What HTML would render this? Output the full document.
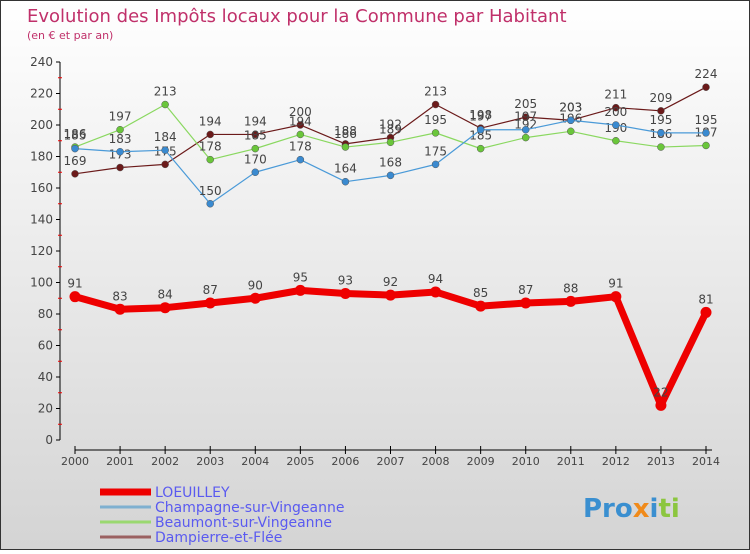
<!DOCTYPE html>
<html><head><meta charset="utf-8"><style>
body{margin:0;}
#c{width:750px;height:550px;position:relative;font-family:"DejaVu Sans","Liberation Sans",sans-serif;}
</style></head><body>
<div id="c">
<svg id="s" width="750" height="550" xmlns="http://www.w3.org/2000/svg">
<defs><linearGradient id="bg" x1="0" y1="0" x2="0" y2="1"><stop offset="0" stop-color="#ffffff"/><stop offset="1" stop-color="#d4d4d4"/></linearGradient></defs>
<rect x="0.5" y="0.5" width="749" height="549" fill="url(#bg)" stroke="#333"/>
<text x="27" y="22" font-size="18" fill="#c0306a">Evolution des Impôts locaux pour la Commune par Habitant</text>
<text x="27" y="39" font-size="11" fill="#c0306a">(en € et par an)</text>
<g id="axes"></g><g id="series"></g><g id="legend"></g>
<text x="583" y="517" font-size="26" font-weight="bold" fill="#3a8fd0">Pro<tspan fill="#f08a1a">x</tspan><tspan fill="#3a8fd0">i</tspan><tspan fill="#8cc63f">ti</tspan></text>
</svg></div>
<script>
const years=[2000,2001,2002,2003,2004,2005,2006,2007,2008,2009,2010,2011,2012,2013,2014];
const yTicks=[0,20,40,60,80,100,120,140,160,180,200,220,240];
const loeuilley=[91,83,84,87,90,95,93,92,94,85,87,88,91,22,81];
const champagne=[185,183,184,150,170,178,164,168,175,197,197,203,200,195,195];
const beaumont=[186,197,213,178,185,194,186,189,195,185,192,196,190,186,187];
const dampierre=[169,173,175,194,194,200,188,192,213,198,205,203,211,209,224];
const names=["LOEUILLEY","Champagne-sur-Vingeanne","Beaumont-sur-Vingeanne","Dampierre-et-Flée"];
const NS="http://www.w3.org/2000/svg";
const xS=i=>75+i*(706-75)/(years.length-1);
const yS=v=>440-v*(440-62)/240;
function mk(t,a,p){const e=document.createElementNS(NS,t);for(const k in a)e.setAttribute(k,a[k]);p.appendChild(e);return e;}
const ax=document.getElementById('axes');
let yl=mk('line',{x1:60,y1:62,x2:60,y2:440,stroke:'#000'},ax);


yTicks.forEach((t,i)=>{
 mk('line',{x1:56,y1:yS(t),x2:60,y2:yS(t),stroke:'#000'},ax);
 if(i<yTicks.length-1)mk('line',{x1:58,y1:yS(t+10),x2:62,y2:yS(t+10),stroke:'#e00'},ax);
 const tx=mk('text',{x:53,y:yS(t)+4,'font-size':12,'text-anchor':'end',fill:'#444'},ax);tx.textContent=t;
 
 
});
let xl=mk('line',{x1:75,y1:450,x2:712,y2:450,stroke:'#000'},ax);


years.forEach((y,i)=>{
 mk('line',{x1:xS(i),y1:450,x2:xS(i),y2:454,stroke:'#000'},ax);
 mk('line',{x1:xS(i),y1:446,x2:xS(i),y2:450,stroke:'#000'},ax);
 const tx=mk('text',{x:xS(i),y:465,'font-size':11,'text-anchor':'middle',fill:'#444'},ax);tx.textContent=y;
 
 
});
const sg=document.getElementById('series');
const defs=[[dampierre,'#6b1a1a','#6b1a1a',1.2,3.5,'dampierre'],[beaumont,'#8ad860','#6ac63a',1.2,3.5,'beaumont'],[champagne,'#4a9ad8','#3a8ad0',1.2,3.5,'champagne'],[loeuilley,'#ee0000','#ee0000',7,5.5,'loeuilley']];
defs.forEach(([d,c,f,w,r,n])=>{
 const g=mk('g',{},sg);
 
 
 const pl=mk('polyline',{points:d.map((v,i)=>xS(i)+','+yS(v)).join(' '),fill:'none',stroke:c,'stroke-width':w,'stroke-linejoin':'round'},g);
 
 
 d.forEach((v,i)=>{
  const ci=mk('circle',{cx:xS(i),cy:yS(v),r:r,fill:f,stroke:n==='loeuilley'?'none':'#555','stroke-width':0.5},g);
  
  
  const t=mk('text',{x:xS(i),y:yS(v)-9,'font-size':12,'text-anchor':'middle',fill:'#444'},g);t.textContent=v;
  
  
 });
});
const lg=document.getElementById('legend');
const lc=['#ee0000','#7fb0d0','#9ad870','#9a6060'],lw=[7,3,3,3];
names.forEach((n,i)=>{
 const y=492+i*15;
 const g=mk('g',{},lg);
 
 
 mk('line',{x1:100,y1:y,x2:151,y2:y,stroke:lc[i],'stroke-width':lw[i]},g);
 const t=mk('text',{x:155,y:y+5,'font-size':14,fill:'#5a5af0'},g);t.textContent=n;
});
</script>
</body></html>
